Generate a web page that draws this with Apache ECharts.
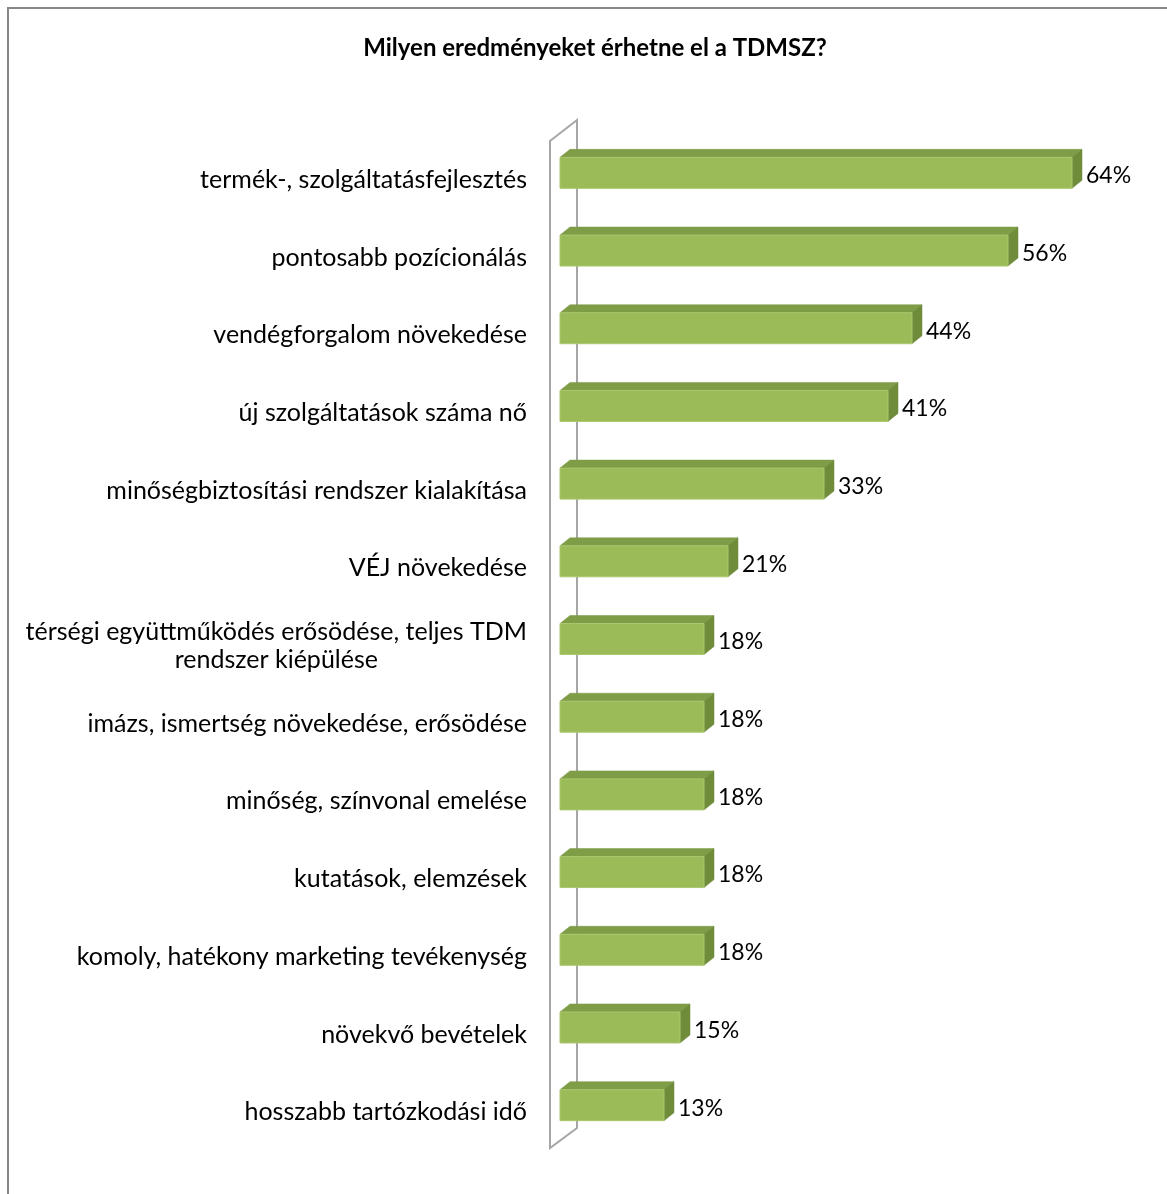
<!DOCTYPE html>
<html>
<head>
<meta charset="utf-8">
<script src="https://cdn.jsdelivr.net/npm/echarts@6/dist/echarts.min.js"></script>
<style>
html,body{margin:0;padding:0;background:#fff;}
#chart{width:1167px;height:1194px;}
</style>
</head>
<body>
<div id="chart"></div>
<script>
const titleText = 'Milyen eredményeket érhetne el a TDMSZ?';
const categories = [
  'termék-, szolgáltatásfejlesztés',
  'pontosabb pozícionálás',
  'vendégforgalom növekedése',
  'új szolgáltatások száma nő',
  'minőségbiztosítási rendszer kialakítása',
  'VÉJ növekedése',
  'térségi együttműködés erősödése, teljes TDM\nrendszer kiépülése',
  'imázs, ismertség növekedése, erősödése',
  'minőség, színvonal emelése',
  'kutatások, elemzések',
  'komoly, hatékony marketing tevékenység',
  'növekvő bevételek',
  'hosszabb tartózkodási idő'
];
const values = [64, 56, 44, 41, 33, 21, 18, 18, 18, 18, 18, 15, 13];

const FONT = 'Lato';
const chart = echarts.init(document.getElementById('chart'), null, {renderer: 'canvas'});

const barData = values.map((v, i) => [v, i]);

function renderBar(params, api) {
  const v = api.value(0), i = api.value(1);
  const p0 = api.coord([0, i]);
  const p1 = api.coord([v, i]);
  const bw = 31, dx = 10, dy = 8;
  const x0 = p0[0], x1 = p1[0];
  const yt = p1[1] - bw / 2, yb = p1[1] + bw / 2;
  return {
    type: 'group',
    children: [
      {type: 'polygon', shape: {points: [[x0, yt], [x0 + dx, yt - dy], [x1 + dx, yt - dy], [x1, yt]]},
        style: {fill: '#7f9d47', stroke: '#7a9744', lineWidth: 0.5}},
      {type: 'polygon', shape: {points: [[x1, yt], [x1 + dx, yt - dy], [x1 + dx, yb - dy], [x1, yb]]},
        style: {fill: '#6f8c3b', stroke: '#6c8839', lineWidth: 0.5}},
      {type: 'rect', shape: {x: x0, y: yt, width: x1 - x0, height: bw},
        style: {fill: '#9bbb59', stroke: '#a9c76c', lineWidth: 1}},
      {type: 'text', style: {x: x1 + 14, y: p1[1] + 3, text: v + '%', fill: '#000',
        font: '23px ' + FONT, textAlign: 'left', textVerticalAlign: 'middle'}}
    ]
  };
}

function renderWall(params, api) {
  const cs = params.coordSys;
  const x0 = api.coord([0, 0])[0];
  const top = cs.y, bot = cs.y + cs.height;
  const fx = x0 - 10, bx = x0 + 17;
  return {
    type: 'polygon',
    shape: {points: [[fx, top + 7], [bx, top - 14], [bx, bot - 16], [fx, bot + 4]]},
    style: {fill: 'rgba(255,255,255,0)', stroke: '#a6a6a6', lineWidth: 2}
  };
}

chart.setOption({
  animation: false,
  backgroundColor: '#fff',
  title: {
    text: titleText,
    left: 590,
    top: 31,
    textAlign: 'center',
    textStyle: {fontFamily: FONT, fontWeight: 'bold', fontSize: 24, color: '#000'}
  },
  graphic: [{
    type: 'rect', shape: {x: 8, y: 8, width: 1400, height: 1400},
    style: {fill: 'none', stroke: '#878787', lineWidth: 2}, silent: true
  }],
  grid: {left: 560, top: 134, width: 560, height: 1010},
  xAxis: {type: 'value', min: 0, max: 70, show: false},
  yAxis: {
    type: 'category', data: categories, inverse: true,
    axisLine: {show: false}, axisTick: {show: false}, splitLine: {show: false},
    axisLabel: {
      margin: 33,
      padding: [14, 0, 0, 0],
      fontFamily: FONT, fontSize: 25, color: '#000', lineHeight: 28,
      formatter: function (val) {
        return val.split('\n').map(s => '{c|' + s + '}').join('\n');
      },
      rich: {c: {align: 'center', fontFamily: FONT, fontSize: 25, color: '#000', lineHeight: 28}}
    }
  },
  series: [
    {type: 'custom', renderItem: renderWall, data: [[0, 0]], encode: {x: 0, y: 1}, z: 1, silent: true, clip: false},
    {type: 'custom', renderItem: renderBar, data: barData, encode: {x: 0, y: 1}, z: 2, silent: true, clip: false}
  ]
});
</script>
</body>
</html>
